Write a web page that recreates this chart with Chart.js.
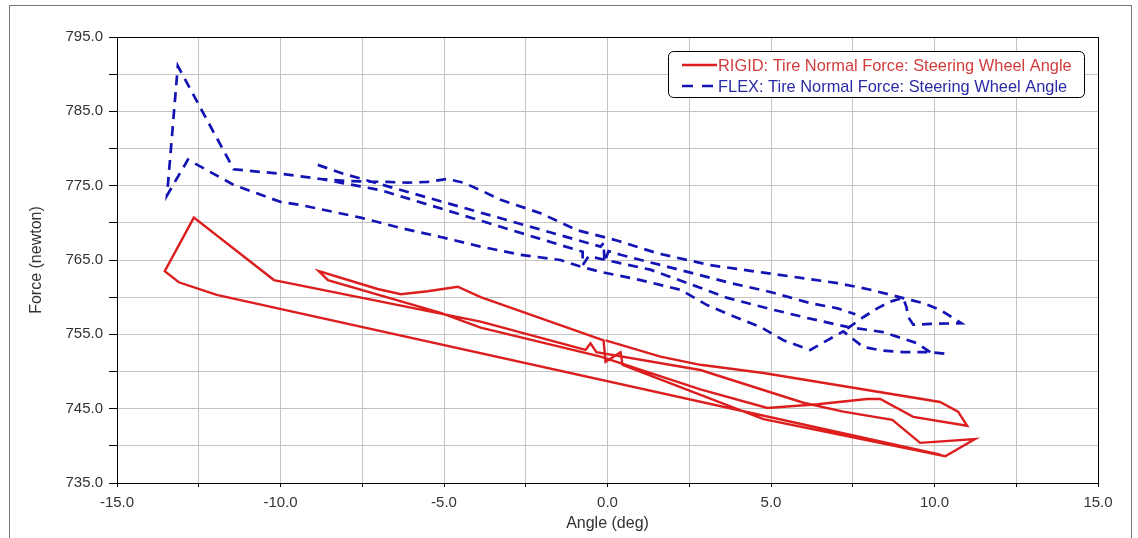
<!DOCTYPE html>
<html>
<head>
<meta charset="utf-8">
<title>Tire Normal Force vs Steering Wheel Angle</title>
<script src="https://cdn.jsdelivr.net/npm/chart.js@4.4.1/dist/chart.umd.min.js"></script>
<style>
  html, body { margin: 0; padding: 0; background: #fff; }
  canvas { display: block; }
</style>
</head>
<body>
<canvas id="forca" width="1138" height="538"></canvas>
<script>
// RIGID run: steering wheel angle (deg) / tire normal force (newton), in time order
const rigidAngle = [-0.06, 1.62, 2.84, 4.77, 10.17, 10.72, 11.00, 9.35, 8.34, 7.94, 6.42, 4.89, 2.84, -0.21,
    -3.88, -5.10, -8.55, -8.83, -7.03, -6.32, -5.50, -4.58, -3.88, -0.12, -0.06, 0.40, 0.46, 4.77,
    10.33, 11.24, 9.56, 8.71, 7.21, 5.99, 2.84, -0.34, -0.52, -0.67, -3.88, -10.20, -12.65, -13.54,
    -13.11, -11.95, 10.18];
const rigidForce = [754.2, 752.0, 750.9, 749.8, 745.9, 744.6, 742.7, 743.9, 746.3, 746.3, 745.6, 745.1, 747.6, 752.0,
    755.9, 757.9, 762.3, 763.5, 761.1, 760.4, 760.8, 761.4, 760.0, 754.2, 751.3, 752.6, 750.9, 743.6,
    738.6, 740.9, 740.4, 743.5, 744.6, 745.8, 750.2, 752.6, 753.8, 752.9, 756.7, 762.3, 770.7, 763.5,
    762.0, 760.3, 738.8];

// FLEX run; a null breaks the trace into separate strokes
const flexAngle = [10.30, 9.87, 9.04, 8.43, 7.82, 7.21, 6.20, 5.38, 4.67, 3.76, 3.06, 2.23, 1.01, -0.21,
    -0.82, -1.44, -2.66, -3.88, -5.10, -6.32, -7.55, -9.38, -9.99, -11.43, -12.83, -13.47, -13.14, -11.43,
    -9.99, -8.77, -7.85, -6.72, -6.11, -5.50, -4.89, -4.40, -3.79, -3.27, -2.05, -0.92, 0.31, 1.53,
    3.15, 4.77, 7.03, 8.04, 9.65, 10.17, 10.82, 9.87, 9.35, 9.20, 9.14, 9.04, 8.65, 8.25, 7.82, 7.21,
    null,
    9.87, 9.47, 8.43, 7.33, 6.11, 4.89, 3.67, 2.44, 1.31, -0.58, -0.76, -0.76, -6.94, -8.77,
    null,
    -8.86, -8.07, -0.21, -0.12, -0.09, 0.03, 0.40, 2.54, 3.76, 4.98, 6.20, 7.03, 7.58];
const flexForce = [752.4, 752.6, 752.6, 752.8, 753.3, 755.4, 752.9, 754.2, 756.0, 757.6, 758.9, 761.0, 762.3, 763.4,
    764.1, 765.0, 765.7, 766.8, 768.1, 769.3, 770.7, 772.4, 772.8, 775.1, 778.5, 773.7, 791.1, 777.2,
    776.6, 775.9, 775.6, 775.5, 775.4, 775.5, 775.9, 775.4, 774.2, 773.1, 771.3, 769.0, 767.6, 765.9,
    764.3, 763.3, 761.9, 761.0, 759.2, 758.3, 756.5, 756.4, 756.3, 757.3, 758.7, 759.9, 759.4, 758.5, 757.3, 755.4,
    null,
    752.6, 753.8, 755.3, 756.0, 757.2, 758.5, 759.9, 761.9, 763.7, 765.5, 764.3, 766.1, 774.4, 775.9,
    null,
    777.8, 776.6, 766.8, 767.3, 764.7, 766.2, 765.7, 763.3, 761.9, 760.7, 759.2, 758.5, 757.7];

// labelled ticks (the other grid steps stay blank)
const angleLabels = [-15, -10, -5, 0, 5, 10, 15];
const forceLabels = [735, 745, 755, 765, 775, 785, 795];

const fonte = "'Liberation Sans', Arial, sans-serif";

function juntar(xs, ys) {
    return xs.map((x, i) => ({ x: x, y: ys[i] }));
}

function rotulo(lista, v) {
    return lista.some(a => Math.abs(a - v) < 1e-6) ? v.toFixed(1) : '';
}

// plot frame, outer border and the boxed legend
const moldura = {
    id: 'moldura',
    afterDraw(chart) {
        const ctx = chart.ctx;
        const a = chart.chartArea;
        ctx.save();
        ctx.lineWidth = 1;
        ctx.strokeStyle = '#000';
        ctx.strokeRect(Math.round(a.left) + 0.5, Math.round(a.top) + 0.5,
            Math.round(a.right - a.left), Math.round(a.bottom - a.top));

        ctx.strokeStyle = '#777';
        ctx.strokeRect(9.5, 5.5, 1122, 545);

        // legend
        const lx = 668, ly = 51, lw = 416, lh = 46;
        ctx.beginPath();
        ctx.roundRect(lx + 0.5, ly + 0.5, lw, lh, 5);
        ctx.fillStyle = '#fff';
        ctx.fill();
        ctx.strokeStyle = '#000';
        ctx.stroke();

        ctx.font = '16.4px ' + fonte;
        ctx.textBaseline = 'middle';
        chart.data.datasets.forEach((ds, i) => {
            const y = ly + 14 + i * 21;
            ctx.beginPath();
            ctx.setLineDash(ds.legendDash || []);
            ctx.lineWidth = ds.borderWidth;
            ctx.strokeStyle = ds.borderColor;
            ctx.moveTo(682, y);
            ctx.lineTo(717, y);
            ctx.stroke();
            ctx.setLineDash([]);
            ctx.fillStyle = ds.textColor;
            ctx.fillText(ds.label, 718, y + 1);
        });
        ctx.restore();
    }
};

const grafico = new Chart(document.getElementById('forca'), {
    type: 'scatter',
    data: {
        datasets: [{
            label: 'RIGID: Tire Normal Force: Steering Wheel Angle',
            data: juntar(rigidAngle, rigidForce),
            borderColor: '#dc1e1e',
            textColor: '#d23c3c',
            borderWidth: 2.4,
            showLine: true,
            pointRadius: 0
        }, {
            label: 'FLEX: Tire Normal Force: Steering Wheel Angle',
            data: juntar(flexAngle, flexForce),
            borderColor: '#1414b4',
            textColor: '#2b2ba6',
            borderWidth: 2.7,
            borderDash: [10, 7],
            legendDash: [11, 9],
            showLine: true,
            spanGaps: false,
            pointRadius: 0
        }]
    },
    options: {
        responsive: false,
        animation: false,
        devicePixelRatio: 1,
        layout: { padding: { top: 37, right: 40, left: 0, bottom: 0 } },
        plugins: {
            legend: { display: false },
            tooltip: { enabled: false }
        },
        scales: {
            x: {
                type: 'linear',
                min: -15,
                max: 15,
                afterFit: s => { s.height = 55; },
                grid: { color: '#c4c4c4', tickColor: '#000', tickLength: 4 },
                border: { color: '#000' },
                ticks: {
                    stepSize: 2.5,
                    autoSkip: false,
                    maxRotation: 0,
                    padding: 7,
                    color: '#333',
                    font: { family: fonte, size: 15 },
                    callback: v => rotulo(angleLabels, v)
                },
                title: {
                    display: true,
                    text: 'Angle (deg)',
                    color: '#333',
                    font: { family: fonte, size: 16 },
                    padding: { top: 0, bottom: 5 }
                }
            },
            y: {
                min: 735,
                max: 795,
                afterFit: s => { s.width = 117; },
                grid: { color: '#c4c4c4', tickColor: '#000', tickLength: 8 },
                border: { color: '#000' },
                ticks: {
                    stepSize: 5,
                    autoSkip: false,
                    padding: 6,
                    color: '#333',
                    font: { family: fonte, size: 15 },
                    callback: v => rotulo(forceLabels, v)
                },
                title: {
                    display: true,
                    text: 'Force (newton)',
                    color: '#333',
                    font: { family: fonte, size: 16 },
                    padding: { top: 27, bottom: 0 }
                }
            }
        }
    },
    plugins: [moldura]
});
</script>
</body>
</html>
